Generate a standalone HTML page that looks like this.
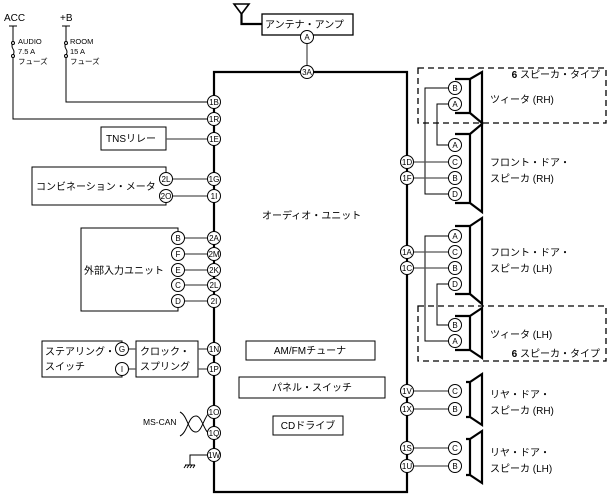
<!DOCTYPE html>
<html><head><meta charset="utf-8"><style>
html,body{margin:0;padding:0;background:#fff;}
svg{display:block;font-family:"Liberation Sans","Noto Sans CJK JP",sans-serif;}
text{font-size:10px;fill:#000;}
.c{fill:#fff;stroke:#000;stroke-width:1;}
.ct{font-size:8px;text-anchor:middle;}
.w{stroke:#555;stroke-width:1.3;fill:none;}
.k{stroke:#000;stroke-width:1;fill:none;}
.b{stroke:#000;stroke-width:2.2;fill:none;}
.bx{stroke:#000;stroke-width:1;fill:#fff;}
.d{stroke:#000;stroke-width:1.3;fill:none;stroke-dasharray:6,4;}
</style></head><body>
<svg width="607" height="498" viewBox="0 0 607 498" xmlns="http://www.w3.org/2000/svg">
<path class="b" d="M214,102 V72 H407 V492 H214 V455"/>
<line class="b" x1="214" y1="102" x2="214" y2="455"/>
<text x="262" y="219">オーディオ・ユニット</text>
<rect class="bx" x="246" y="341" width="129" height="19"/><text x="310" y="354" text-anchor="middle">AM/FMチューナ</text>
<rect class="bx" x="239" y="377" width="146" height="21"/><text x="312" y="391" text-anchor="middle">パネル・スイッチ</text>
<rect class="bx" x="273" y="416" width="70" height="19"/><text x="308" y="429" text-anchor="middle">CDドライブ</text>

<path class="b" d="M234,4 H249 L241.5,14 Z" style="stroke-width:1.6"/>
<path class="b" d="M241.5,14 V24 H262"/>
<rect class="bx" x="262" y="14" width="91" height="21" style="stroke-width:1.3"/>
<text x="265" y="28">アンテナ・アンプ</text>
<line class="w" x1="307" y1="37" x2="307" y2="72"/>

<text x="4" y="21">ACC</text><text x="60" y="21">+B</text>
<line class="k" x1="9" y1="26" x2="17" y2="26"/><line class="k" x1="62" y1="26" x2="70" y2="26"/>
<path class="k" d="M13,26 V42 M13,56 V119 H214"/>
<path class="k" d="M66,26 V42 M66,56 V102 H214"/>
<path class="k" d="M13,43 q-2,3 0,6 q2,3 0,6 M66,43 q-2,3 0,6 q2,3 0,6"/>
<circle class="c" cx="13" cy="43" r="1.5"/><circle class="c" cx="13" cy="56" r="1.5"/>
<circle class="c" cx="66" cy="43" r="1.5"/><circle class="c" cx="66" cy="56" r="1.5"/>
<text x="18" y="44" style="font-size:7.5px">AUDIO</text><text x="18" y="54" style="font-size:7.5px">7.5 A</text><text x="18" y="64" style="font-size:7.5px">フューズ</text>
<text x="70" y="44" style="font-size:7.5px">ROOM</text><text x="70" y="54" style="font-size:7.5px">15 A</text><text x="70" y="64" style="font-size:7.5px">フューズ</text>

<rect class="bx" x="101" y="127" width="65" height="23"/><text x="106" y="142">TNSリレー</text>
<line class="w" x1="166" y1="139" x2="214" y2="139"/>
<path class="k" d="M166,179 V167 H32 V205 H166 V196"/>
<text x="36" y="190">コンビネーション・メータ</text>
<line class="w" x1="166" y1="179" x2="214" y2="179"/><line class="w" x1="166" y1="196" x2="214" y2="196"/>
<path class="k" d="M178,238 V228 H81 V311 H178 V301"/>
<text x="84" y="274">外部入力ユニット</text>
<g class="w"><line x1="178" y1="238" x2="214" y2="238"/><line x1="178" y1="254" x2="214" y2="254"/><line x1="178" y1="270" x2="214" y2="270"/><line x1="178" y1="285" x2="214" y2="285"/><line x1="178" y1="301" x2="214" y2="301"/></g>
<path class="k" d="M122,349 V341 H42 V377 H122 V369"/>
<text x="45" y="355">ステアリング・</text><text x="45" y="370">スイッチ</text>
<rect class="bx" x="136" y="341" width="62" height="36"/>
<text x="140" y="355">クロック・</text><text x="140" y="370">スプリング</text>
<line class="w" x1="122" y1="349" x2="136" y2="349"/><line class="w" x1="122" y1="369" x2="136" y2="369"/>
<line class="w" x1="198" y1="349" x2="214" y2="349"/><line class="w" x1="198" y1="369" x2="214" y2="369"/>
<text x="143" y="425" style="font-size:8.5px">MS-CAN</text>
<path class="k" d="M180,412 C188,416 188,432 196,432 C202,432 204,416 210,412 M180,436 C188,432 188,416 196,416 C202,416 204,432 210,434"/>
<path class="k" d="M214,455 H190 V465"/>
<path class="k" d="M185,465 H195 M186,465 l-2,3 M189,465 l-2,3 M192,465 l-2,3 M195,465 l-2,3"/>

<g>
<circle class="c" cx="307" cy="37" r="6.5"/><text class="ct" x="307" y="40">A</text>
<circle class="c" cx="307" cy="72" r="6.5"/><text class="ct" x="307" y="75">3A</text>
<circle class="c" cx="214" cy="102" r="6.5"/><text class="ct" x="214" y="105">1B</text>
<circle class="c" cx="214" cy="119" r="6.5"/><text class="ct" x="214" y="122">1R</text>
<circle class="c" cx="214" cy="139" r="6.5"/><text class="ct" x="214" y="142">1E</text>
<circle class="c" cx="214" cy="179" r="6.5"/><text class="ct" x="214" y="182">1G</text>
<circle class="c" cx="214" cy="196" r="6.5"/><text class="ct" x="214" y="199">1I</text>
<circle class="c" cx="166" cy="179" r="6.5"/><text class="ct" x="166" y="182">2L</text>
<circle class="c" cx="166" cy="196" r="6.5"/><text class="ct" x="166" y="199">2O</text>
<circle class="c" cx="214" cy="238" r="6.5"/><text class="ct" x="214" y="241">2A</text>
<circle class="c" cx="214" cy="254" r="6.5"/><text class="ct" x="214" y="257">2M</text>
<circle class="c" cx="214" cy="270" r="6.5"/><text class="ct" x="214" y="273">2K</text>
<circle class="c" cx="214" cy="285" r="6.5"/><text class="ct" x="214" y="288">2L</text>
<circle class="c" cx="214" cy="301" r="6.5"/><text class="ct" x="214" y="304">2I</text>
<circle class="c" cx="178" cy="238" r="6.5"/><text class="ct" x="178" y="241">B</text>
<circle class="c" cx="178" cy="254" r="6.5"/><text class="ct" x="178" y="257">F</text>
<circle class="c" cx="178" cy="270" r="6.5"/><text class="ct" x="178" y="273">E</text>
<circle class="c" cx="178" cy="285" r="6.5"/><text class="ct" x="178" y="288">C</text>
<circle class="c" cx="178" cy="301" r="6.5"/><text class="ct" x="178" y="304">D</text>
<circle class="c" cx="122" cy="349" r="6.5"/><text class="ct" x="122" y="352">G</text>
<circle class="c" cx="122" cy="369" r="6.5"/><text class="ct" x="122" y="372">I</text>
<circle class="c" cx="214" cy="349" r="6.5"/><text class="ct" x="214" y="352">1N</text>
<circle class="c" cx="214" cy="369" r="6.5"/><text class="ct" x="214" y="372">1P</text>
<circle class="c" cx="214" cy="412" r="6.5"/><text class="ct" x="214" y="415">1O</text>
<circle class="c" cx="214" cy="433" r="6.5"/><text class="ct" x="214" y="436">1Q</text>
<circle class="c" cx="214" cy="455" r="6.5"/><text class="ct" x="214" y="458">1W</text>
</g>

<rect class="d" x="418" y="68" width="188" height="55"/>
<rect class="d" x="418" y="306" width="188" height="55"/>
<text x="600" y="78" text-anchor="end"><tspan font-weight="bold">6</tspan> スピーカ・タイプ</text>
<text x="600" y="357" text-anchor="end"><tspan font-weight="bold">6</tspan> スピーカ・タイプ</text>

<path class="k" d="M455,88 H425 V194 H455"/>
<path class="k" d="M455,104 H437 V145 H455"/>
<path class="k" d="M455,236 H425 V341 H455"/>
<path class="k" d="M455,284 H437 V325 H455"/>
<g class="w">
<line x1="407" y1="162" x2="455" y2="162"/><line x1="407" y1="178" x2="455" y2="178"/>
<line x1="407" y1="252" x2="455" y2="252"/><line x1="407" y1="268" x2="455" y2="268"/>
<line x1="407" y1="391" x2="455" y2="391"/><line x1="407" y1="409" x2="455" y2="409"/>
<line x1="407" y1="448" x2="455" y2="448"/><line x1="407" y1="466" x2="455" y2="466"/>
</g>

<g class="b">
<path d="M455,79 H470 V113 H455 M470,79 L482,72 V123 L470,113"/>
<path d="M455,134 H470 V203 H455 M470,134 L482,124 V212 L470,203"/>
<path d="M455,226 H470 V294 H455 M470,226 L482,218 V304 L470,294"/>
<path d="M455,316 H470 V350 H455 M470,316 L482,308 V358 L470,350"/>
<path d="M466,382 H470 V417 H466 M470,382 L482,374 V425 L470,417"/>
<path d="M466,439 H470 V475 H466 M470,439 L482,431 V483 L470,475"/>
</g>
<text x="490" y="103">ツィータ (RH)</text>
<text x="490" y="166">フロント・ドア・</text><text x="490" y="182">スピーカ (RH)</text>
<text x="490" y="256">フロント・ドア・</text><text x="490" y="272">スピーカ (LH)</text>
<text x="490" y="338">ツィータ (LH)</text>
<text x="490" y="398">リヤ・ドア・</text><text x="490" y="414">スピーカ (RH)</text>
<text x="490" y="456">リヤ・ドア・</text><text x="490" y="472">スピーカ (LH)</text>

<g>
<circle class="c" cx="455" cy="88" r="6.5"/><text class="ct" x="455" y="91">B</text>
<circle class="c" cx="455" cy="104" r="6.5"/><text class="ct" x="455" y="107">A</text>
<circle class="c" cx="455" cy="145" r="6.5"/><text class="ct" x="455" y="148">A</text>
<circle class="c" cx="455" cy="162" r="6.5"/><text class="ct" x="455" y="165">C</text>
<circle class="c" cx="455" cy="178" r="6.5"/><text class="ct" x="455" y="181">B</text>
<circle class="c" cx="455" cy="194" r="6.5"/><text class="ct" x="455" y="197">D</text>
<circle class="c" cx="455" cy="236" r="6.5"/><text class="ct" x="455" y="239">A</text>
<circle class="c" cx="455" cy="252" r="6.5"/><text class="ct" x="455" y="255">C</text>
<circle class="c" cx="455" cy="268" r="6.5"/><text class="ct" x="455" y="271">B</text>
<circle class="c" cx="455" cy="284" r="6.5"/><text class="ct" x="455" y="287">D</text>
<circle class="c" cx="455" cy="325" r="6.5"/><text class="ct" x="455" y="328">B</text>
<circle class="c" cx="455" cy="341" r="6.5"/><text class="ct" x="455" y="344">A</text>
<circle class="c" cx="455" cy="391" r="6.5"/><text class="ct" x="455" y="394">C</text>
<circle class="c" cx="455" cy="409" r="6.5"/><text class="ct" x="455" y="412">B</text>
<circle class="c" cx="455" cy="448" r="6.5"/><text class="ct" x="455" y="451">C</text>
<circle class="c" cx="455" cy="466" r="6.5"/><text class="ct" x="455" y="469">B</text>
<circle class="c" cx="407" cy="162" r="6.5"/><text class="ct" x="407" y="165">1D</text>
<circle class="c" cx="407" cy="178" r="6.5"/><text class="ct" x="407" y="181">1F</text>
<circle class="c" cx="407" cy="252" r="6.5"/><text class="ct" x="407" y="255">1A</text>
<circle class="c" cx="407" cy="268" r="6.5"/><text class="ct" x="407" y="271">1C</text>
<circle class="c" cx="407" cy="391" r="6.5"/><text class="ct" x="407" y="394">1V</text>
<circle class="c" cx="407" cy="409" r="6.5"/><text class="ct" x="407" y="412">1X</text>
<circle class="c" cx="407" cy="448" r="6.5"/><text class="ct" x="407" y="451">1S</text>
<circle class="c" cx="407" cy="466" r="6.5"/><text class="ct" x="407" y="469">1U</text>
</g>
</svg>
</body></html>
